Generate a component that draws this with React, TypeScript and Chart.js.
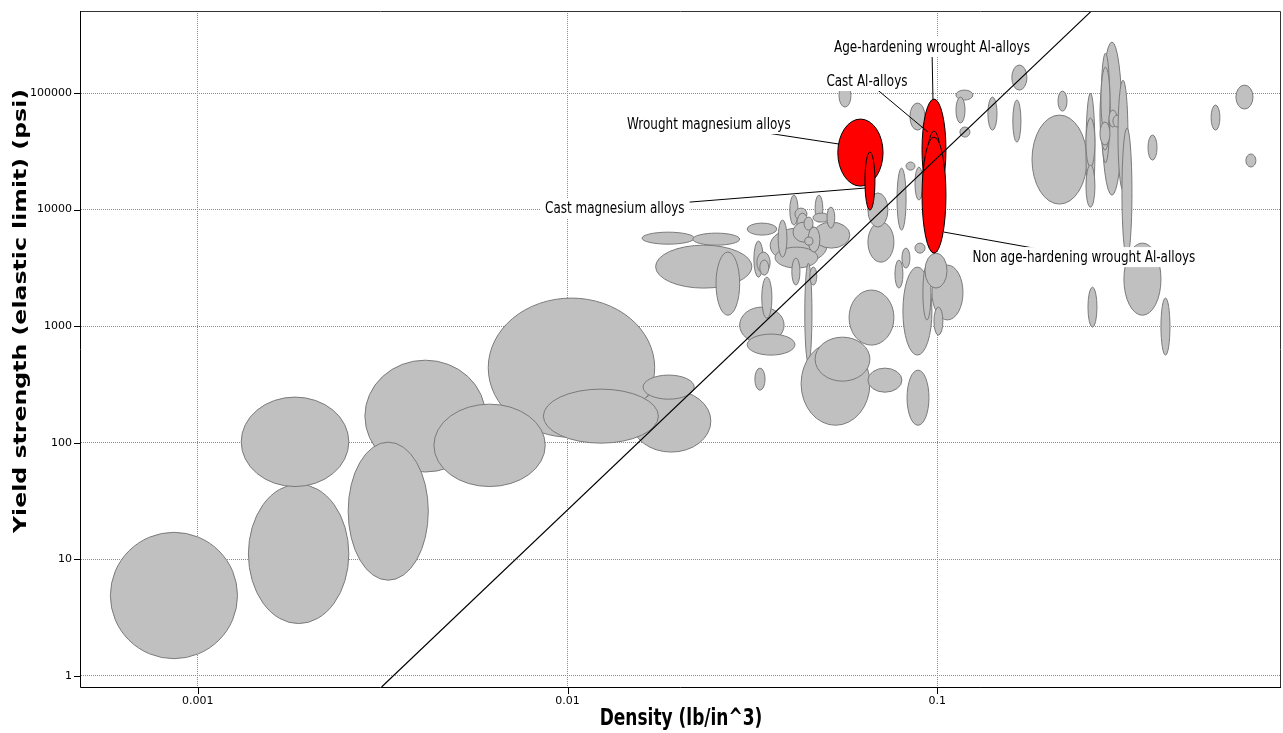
import React, { useEffect, useRef } from "react";
import { Chart, registerables } from "chart.js";

Chart.register(...registerables);

// ---- axes ----
const xDecades = [0.0001, 0.001, 0.01, 0.1];
const yDecades = [1, 10, 100, 1000, 10000, 100000];
const minorSteps = [1, 2, 3, 4, 5, 6, 7, 8, 9];
const xLimits = [0.000483, 0.85];
const yLimits = [0.8, 506000];
const xTitle = "Density (lb/in^3)";
const yTitle = "Yield strength (elastic limit) (psi)";

// ---- material families: [density low, density high, strength low, strength high] ----
const grayFamilies: number[][] = [
  [0.0061, 0.0172, 111, 1740],
  [0.00283, 0.006, 56, 510],
  [0.00255, 0.0042, 6.6, 101],
  [0.00435, 0.0087, 42, 214],
  [0.00058, 0.00128, 1.4, 17],
  [0.00137, 0.00256, 2.8, 44],
  [0.00131, 0.00256, 42, 246],
  [0.0149, 0.0244, 83, 282],
  [0.0086, 0.0176, 99, 288],
  [0.016, 0.022, 236, 380],
  [0.0173, 0.0315, 2120, 4950],
  [0.0159, 0.022, 5050, 6400],
  [0.0218, 0.0292, 4950, 6280],
  [0.0252, 0.0292, 1240, 4320],
  [0.0306, 0.0368, 6040, 7660],
  [0.0292, 0.0385, 715, 1456],
  [0.0306, 0.0412, 564, 854],
  [0.0321, 0.0342, 282, 436],
  [0.0319, 0.0338, 2630, 5370],
  [0.0325, 0.0353, 2850, 4320],
  [0.0331, 0.035, 2740, 3690],
  [0.0335, 0.0357, 1170, 2630],
  [0.0353, 0.0503, 3470, 6940],
  [0.0461, 0.058, 4670, 7810],
  [0.0364, 0.0475, 3150, 4760],
  [0.0371, 0.0392, 3910, 8130],
  [0.0399, 0.042, 7360, 13300],
  [0.0412, 0.0444, 8130, 10300],
  [0.0417, 0.0447, 6040, 9330],
  [0.0407, 0.0467, 5260, 7810],
  [0.0436, 0.0461, 6670, 8620],
  [0.0447, 0.0481, 4320, 7080],
  [0.0438, 0.0461, 4955, 5810],
  [0.0467, 0.049, 7810, 13300],
  [0.0461, 0.0512, 7810, 9330],
  [0.0503, 0.0528, 6940, 10500],
  [0.0404, 0.0425, 2250, 3835],
  [0.0438, 0.0458, 481, 3470],
  [0.0452, 0.0472, 2250, 3210],
  [0.0428, 0.0657, 141, 729],
  [0.0467, 0.0657, 337, 804],
  [0.0577, 0.0763, 687, 2040],
  [0.0649, 0.0802, 271, 436],
  [0.0828, 0.0949, 141, 419],
  [0.0807, 0.0967, 564, 3210],
  [0.0914, 0.0961, 1130, 3340],
  [0.0967, 0.1173, 1130, 3340],
  [0.0926, 0.1062, 2120, 4230],
  [0.0979, 0.1035, 837, 1456],
  [0.0649, 0.0763, 3540, 7810],
  [0.0649, 0.0735, 7080, 13900],
  [0.0778, 0.0823, 6670, 22700],
  [0.0768, 0.0807, 2120, 3690],
  [0.0802, 0.0843, 3150, 4670],
  [0.087, 0.0926, 4230, 5160],
  [0.0542, 0.0584, 75800, 119500],
  [0.0843, 0.0926, 48100, 82100],
  [0.087, 0.0914, 12060, 23200],
  [0.0823, 0.087, 21800, 25600],
  [0.1123, 0.1248, 87100, 106100],
  [0.1123, 0.1188, 55300, 92400],
  [0.1151, 0.1225, 41900, 51100],
  [0.137, 0.145, 48100, 92400],
  [0.159, 0.1747, 106000, 174000],
  [0.16, 0.1683, 38000, 87100],
  [0.212, 0.2242, 70000, 104000],
  [0.1803, 0.2539, 11150, 64700],
  [0.2523, 0.2668, 10500, 100000],
  [0.2523, 0.2668, 23200, 61000],
  [0.2523, 0.2668, 10500, 24100],
  [0.2787, 0.3157, 13300, 274000],
  [0.277, 0.293, 25100, 220000],
  [0.2753, 0.293, 32400, 129000],
  [0.277, 0.293, 45400, 167000],
  [0.2753, 0.293, 35800, 56400],
  [0.2912, 0.306, 51100, 71500],
  [0.2985, 0.3157, 51100, 64700],
  [0.308, 0.3277, 14700, 129000],
  [0.3157, 0.336, 3910, 50100],
  [0.3713, 0.3927, 26600, 43600],
  [0.55, 0.581, 48100, 78900],
  [0.642, 0.714, 72900, 117000],
  [0.683, 0.727, 23200, 30000],
  [0.3196, 0.4025, 1240, 5160],
  [0.2555, 0.2702, 980, 2160],
  [0.4025, 0.4257, 564, 1740],
];

const redNames = [
  "Wrought magnesium alloys",
  "Cast magnesium alloys",
  "Age-hardening wrought Al-alloys",
  "Cast Al-alloys",
  "Non age-hardening wrought Al-alloys",
];
const redFamilies: number[][] = [
  [0.0538, 0.0713, 15900, 59800],
  [0.0637, 0.0678, 9900, 31200],
  [0.0909, 0.1055, 12060, 88800],
  [0.0932, 0.1029, 7360, 47200],
  [0.0909, 0.1055, 4230, 41900],
];
// label position and leader-line anchor, in data units [density, strength]
const redLabelAt: number[][] = [
  [0.0241, 54200],
  [0.01342, 10300],
  [0.0967, 248000],
  [0.0645, 126800],
  [0.2491, 3910],
];
const redAnchorAt: number[][] = [
  [0.0542, 36500],
  [0.0637, 15300],
  [0.0973, 88800],
  [0.0943, 46300],
  [0.1042, 6410],
];

// guideline end points
const guideDensity = [0.00314, 0.26];
const guideStrength = [0.8, 500000];

const FONT = '"DejaVu Sans", Verdana, sans-serif';

const buildTicks = (decades: number[], lim: number[]) => {
  const out: { value: number; major: boolean }[] = [];
  decades.forEach((d) => {
    minorSteps.forEach((m) => {
      const v = d * m;
      if (v >= lim[0] && v <= lim[1]) out.push({ value: m === 1 ? d : v, major: m === 1 });
    });
  });
  return out;
};
const xTicks = buildTicks(xDecades, xLimits);
const yTicks = buildTicks(yDecades, yLimits);

const toEllipse = (r: number[]) => ({
  x: Math.sqrt(r[0] * r[1]),
  y: Math.sqrt(r[2] * r[3]),
  xMin: r[0],
  xMax: r[1],
  yMin: r[2],
  yMax: r[3],
});

const ellipsePlugin = {
  id: "ellipses",
  beforeDatasetsDraw(chart: any) {
    const { ctx, chartArea, scales } = chart;
    const xs = scales.x;
    const ys = scales.y;
    ctx.save();
    ctx.beginPath();
    ctx.rect(chartArea.left, chartArea.top, chartArea.right - chartArea.left, chartArea.bottom - chartArea.top);
    ctx.clip();
    chart.data.datasets.forEach((ds: any) => {
      if (!ds.ellipse) return;
      ds.data.forEach((d: any) => {
        const x1 = xs.getPixelForValue(d.xMin);
        const x2 = xs.getPixelForValue(d.xMax);
        const y1 = ys.getPixelForValue(d.yMin);
        const y2 = ys.getPixelForValue(d.yMax);
        ctx.beginPath();
        ctx.ellipse((x1 + x2) / 2, (y1 + y2) / 2, Math.abs(x2 - x1) / 2, Math.abs(y2 - y1) / 2, 0, 0, Math.PI * 2);
        ctx.fillStyle = ds.ellipseFill;
        ctx.fill();
        ctx.lineWidth = 1;
        ctx.strokeStyle = ds.ellipseStroke;
        ctx.stroke();
      });
    });
    ctx.restore();
  },
};

const labelPlugin = {
  id: "familyLabels",
  afterDatasetsDraw(chart: any) {
    const { ctx, scales } = chart;
    const xs = scales.x;
    const ys = scales.y;
    ctx.save();
    ctx.font = `12px ${FONT}`;
    ctx.textAlign = "center";
    ctx.textBaseline = "middle";
    redNames.forEach((name, i) => {
      const lx = xs.getPixelForValue(redLabelAt[i][0]);
      const ly = ys.getPixelForValue(redLabelAt[i][1]);
      const ax = xs.getPixelForValue(redAnchorAt[i][0]);
      const ay = ys.getPixelForValue(redAnchorAt[i][1]);
      ctx.beginPath();
      ctx.moveTo(ax, ay);
      ctx.lineTo(lx, ly);
      ctx.strokeStyle = "#000";
      ctx.lineWidth = 1;
      ctx.stroke();
      const w = ctx.measureText(name).width;
      ctx.fillStyle = "#fff";
      ctx.fillRect(lx - w / 2 - 5, ly - 10, w + 10, 20);
      ctx.save();
      ctx.translate(lx, ly + 1);
      ctx.scale(1, 1.25);
      ctx.fillStyle = "#000";
      ctx.fillText(name, 0, 0);
      ctx.restore();
    });
    ctx.restore();
  },
};

const framePlugin = {
  id: "frame",
  afterDraw(chart: any) {
    const { ctx, chartArea, scales } = chart;
    const { left, right, top, bottom } = chartArea;
    ctx.save();
    ctx.lineWidth = 1;
    ctx.strokeStyle = "#333";
    ctx.beginPath();
    ctx.moveTo(left - 0.5, top + 0.5);
    ctx.lineTo(right - 0.5, top + 0.5);
    ctx.lineTo(right - 0.5, bottom + 0.5);
    ctx.stroke();
    ctx.strokeStyle = "#000";
    ctx.beginPath();
    ctx.moveTo(left - 0.5, top);
    ctx.lineTo(left - 0.5, bottom + 0.5);
    ctx.lineTo(right, bottom + 0.5);
    ctx.stroke();
    // tick marks
    ctx.beginPath();
    scales.x.ticks.forEach((t: any) => {
      const px = Math.round(scales.x.getPixelForValue(t.value)) + 0.5;
      const len = t.major ? 6 : 4;
      ctx.moveTo(px, bottom + 1);
      ctx.lineTo(px, bottom + 1 + len);
    });
    scales.y.ticks.forEach((t: any) => {
      const py = Math.round(scales.y.getPixelForValue(t.value)) + 0.5;
      const len = t.major ? 6 : 4;
      ctx.moveTo(left - 1, py);
      ctx.lineTo(left - 1 - len, py);
    });
    ctx.stroke();
    ctx.fillStyle = "#000";
    ctx.textAlign = "center";
    ctx.textBaseline = "middle";
    ctx.font = `bold 17px ${FONT}`;
    // x title
    ctx.save();
    ctx.translate((left + right) / 2, 719);
    ctx.scale(1, 1.3);
    ctx.fillText(xTitle, 0, 0);
    ctx.restore();
    // y title
    ctx.save();
    ctx.translate(22, 311);
    ctx.rotate(-Math.PI / 2);
    ctx.scale(1.39, 1);
    ctx.fillText(yTitle, 0, 0);
    ctx.restore();
    ctx.restore();
  },
};

const tickLabel = (v: any, i: number, ticks: any[]) => (ticks[i] && ticks[i].major ? String(v) : null);

export default function App() {
  const ref = useRef<HTMLCanvasElement>(null);
  useEffect(() => {
    const canvas = ref.current;
    if (!canvas) return;
    const datasets: any[] = [
      {
        label: "materials",
        data: grayFamilies.map(toEllipse),
        ellipse: true,
        ellipseFill: "#c0c0c0",
        ellipseStroke: "#7a7a7a",
        pointRadius: 0,
      },
      ...redNames.map((name, i) => ({
        label: name,
        data: [toEllipse(redFamilies[i])],
        ellipse: true,
        ellipseFill: "#ff0000",
        ellipseStroke: "#000",
        pointRadius: 0,
      })),
      {
        label: "guideline",
        data: guideDensity.map((x, i) => ({ x, y: guideStrength[i] })),
        showLine: true,
        borderColor: "#000",
        borderWidth: 1.2,
        pointRadius: 0,
        fill: false,
      },
    ];
    const tickFont = { family: FONT, size: 11 };
    const gridColor = (c: any) => (c.tick && c.tick.major ? "#8c8c8c" : "rgba(0,0,0,0)");
    const chart = new Chart(canvas, {
      type: "scatter",
      data: { datasets },
      options: {
        animation: false,
        responsive: false,
        devicePixelRatio: 1,
        events: [],
        layout: { padding: { top: 11, right: 2, left: 0, bottom: 0 } },
        plugins: { legend: { display: false }, tooltip: { enabled: false } },
        scales: {
          x: {
            type: "logarithmic",
            min: xLimits[0],
            max: xLimits[1],
            afterBuildTicks: (s: any) => {
              s.ticks = xTicks.map((t) => ({ ...t }));
            },
            afterFit: (s: any) => {
              s.height = 46;
              s.paddingLeft = 0;
              s.paddingRight = 0;
              s.paddingTop = 0;
              s.paddingBottom = 0;
            },
            ticks: {
              autoSkip: false,
              maxRotation: 0,
              minRotation: 0,
              padding: 8,
              color: "#000",
              font: tickFont,
              callback: tickLabel,
            },
            grid: { drawTicks: false, lineWidth: 1, color: gridColor },
            border: { display: false, dash: [1, 1] },
            title: { display: false },
          },
          y: {
            type: "logarithmic",
            min: yLimits[0],
            max: yLimits[1],
            afterBuildTicks: (s: any) => {
              s.ticks = yTicks.map((t) => ({ ...t }));
            },
            afterFit: (s: any) => {
              s.width = 81;
              s.paddingLeft = 0;
              s.paddingRight = 0;
              s.paddingTop = 0;
              s.paddingBottom = 0;
            },
            ticks: {
              autoSkip: false,
              padding: 9,
              color: "#000",
              font: tickFont,
              callback: tickLabel,
            },
            grid: { drawTicks: false, lineWidth: 1, color: gridColor },
            border: { display: false, dash: [1, 1] },
            title: { display: false },
          },
        },
      } as any,
      plugins: [ellipsePlugin, labelPlugin, framePlugin],
    });
    return () => chart.destroy();
  }, []);
  return (
    <div style={{ position: "fixed", left: 0, top: 0, width: 1283, height: 733, background: "#fff" }}>
      <canvas ref={ref} width={1283} height={733} style={{ display: "block" }} />
    </div>
  );
}
